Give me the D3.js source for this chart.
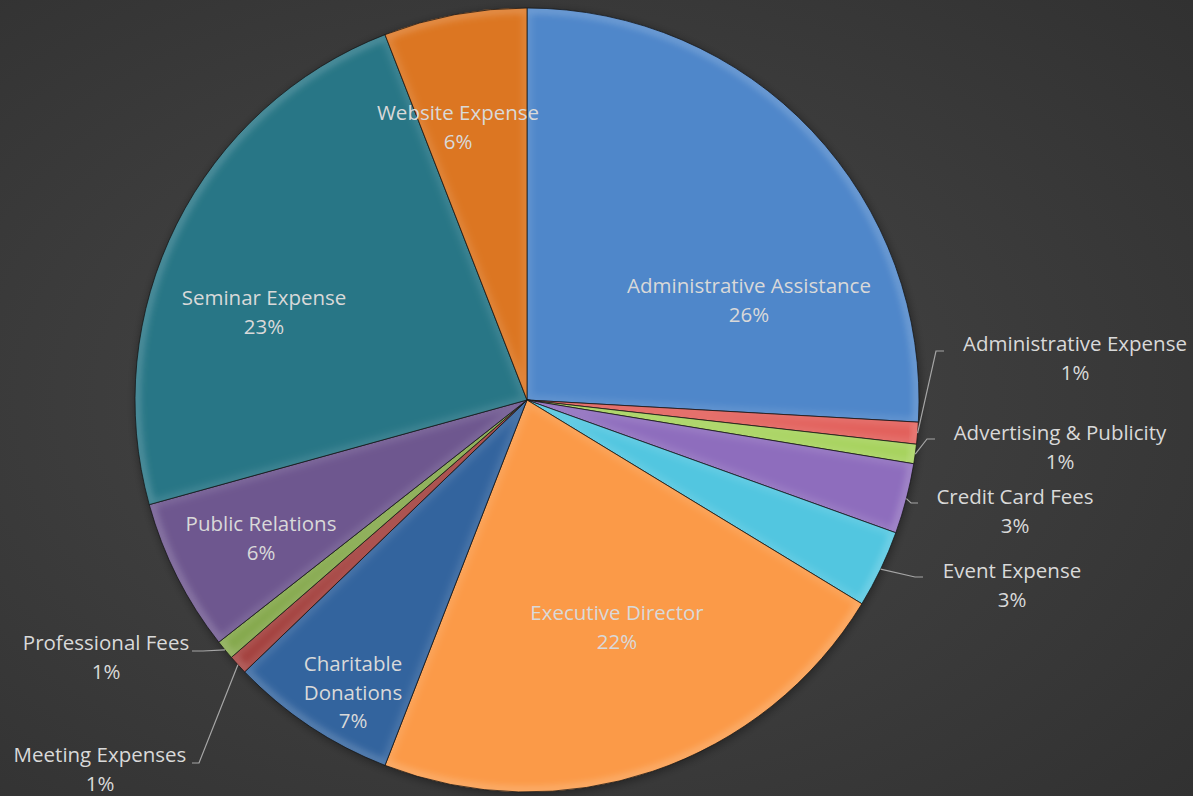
<!DOCTYPE html>
<html>
<head>
<meta charset="utf-8">
<script src="https://cdn.jsdelivr.net/npm/d3@7"></script>
<style>
  html, body { margin: 0; padding: 0; background: #3a3a3a; }
  svg { display: block; }
</style>
</head>
<body>
<svg id="chart" width="1193" height="796"></svg>
<script>
// ---- data ----
const categories = [
  "Administrative Assistance", "Administrative Expense", "Advertising & Publicity",
  "Credit Card Fees", "Event Expense", "Executive Director", "Charitable Donations",
  "Meeting Expenses", "Professional Fees", "Public Relations", "Seminar Expense", "Website Expense"
];
const values = [25.9, 0.9, 0.8, 2.9, 3.2, 22.2, 6.9, 0.8, 0.8, 6.3, 23.4, 5.9];
const colors = [
  "#4f87ca", "#e2605b", "#a6d25c", "#8e6dbd", "#52c6e0", "#fb9a48",
  "#33649e", "#a3403d", "#84a84b", "#6e578f", "#287686", "#dc7622"
];

// ---- layout (not data) ----
const W = 1193, H = 796;
const cx = 527, cy = 400, R = 392;
const fontSize = 20.5, lineH = 28.5;
const labelLayout = [
  { x: 749, y: 286, lines: ["Administrative Assistance"] },
  { x: 1075, y: 344, lines: ["Administrative Expense"] },
  { x: 1060, y: 433, lines: ["Advertising & Publicity"] },
  { x: 1015, y: 497, lines: ["Credit Card Fees"] },
  { x: 1012, y: 571, lines: ["Event Expense"] },
  { x: 617, y: 613, lines: ["Executive Director"] },
  { x: 353, y: 664, lines: ["Charitable", "Donations"] },
  { x: 100, y: 755, lines: ["Meeting Expenses"] },
  { x: 106, y: 643, lines: ["Professional Fees"] },
  { x: 261, y: 524, lines: ["Public Relations"] },
  { x: 264, y: 298, lines: ["Seminar Expense"] },
  { x: 458, y: 113, lines: ["Website Expense"] }
];
const leaders = [
  { i: 1, elbow: [936, 351], end: [944, 351] },
  { i: 2, elbow: [927, 439], end: [935, 439] },
  { i: 3, elbow: [911, 503], end: [918, 503] },
  { i: 4, elbow: [915, 577], end: [923, 577] },
  { i: 7, elbow: [199, 763], end: [192, 763] },
  { i: 8, elbow: [203, 651], end: [192, 651] }
];

const svg = d3.select("#chart");
const defs = svg.append("defs");

const bg = defs.append("radialGradient").attr("id", "bg")
  .attr("cx", cx / W).attr("cy", cy / H).attr("r", 0.75);
bg.append("stop").attr("offset", "0%").attr("stop-color", "#484848");
bg.append("stop").attr("offset", "100%").attr("stop-color", "#313131");
svg.append("rect").attr("width", W).attr("height", H).attr("fill", "url(#bg)");

const blur = defs.append("filter").attr("id", "blur")
  .attr("x", "-10%").attr("y", "-10%").attr("width", "120%").attr("height", "120%");
blur.append("feGaussianBlur").attr("stdDeviation", 3);
const sblur = defs.append("filter").attr("id", "sblur")
  .attr("x", "-10%").attr("y", "-10%").attr("width", "120%").attr("height", "120%");
sblur.append("feGaussianBlur").attr("stdDeviation", 4);

const pie = d3.pie().sort(null).value(d => d).startAngle(0).endAngle(2 * Math.PI);
const arcs = pie(values);
const arc = d3.arc().innerRadius(0).outerRadius(R);
const rimArc = d3.arc().innerRadius(R - 6).outerRadius(R);

const g = svg.append("g").attr("transform", `translate(${cx},${cy})`);

g.append("circle").attr("r", R + 1).attr("fill", "rgba(0,0,0,0.35)")
  .attr("filter", "url(#sblur)").attr("transform", "translate(1,2)");

arcs.forEach((a, i) => {
  defs.append("clipPath").attr("id", "clip" + i)
    .append("path").attr("d", arc(a));
});

const slices = g.selectAll("g.slice").data(arcs).join("g").attr("class", "slice");
slices.append("path").attr("d", arc).attr("fill", (d, i) => colors[i]);
slices.append("path").attr("d", arc)
  .attr("fill", "none")
  .attr("stroke", "rgba(255,255,255,0.10)")
  .attr("stroke-width", 10)
  .attr("filter", "url(#blur)")
  .attr("clip-path", (d, i) => `url(#clip${i})`);
slices.append("path").attr("d", rimArc)
  .attr("fill", "rgba(255,255,255,0.10)")
  .attr("filter", "url(#blur)")
  .attr("clip-path", (d, i) => `url(#clip${i})`);
slices.append("path").attr("d", arc)
  .attr("fill", "none")
  .attr("stroke", "rgba(20,20,20,0.75)")
  .attr("stroke-width", 1);

const lineGen = d3.line();
leaders.forEach(l => {
  const a = arcs[l.i];
  const mid = (a.startAngle + a.endAngle) / 2;
  const p0 = [R * Math.sin(mid), -R * Math.cos(mid)];
  const pts = [p0, [l.elbow[0] - cx, l.elbow[1] - cy], [l.end[0] - cx, l.end[1] - cy]];
  g.append("path").attr("d", lineGen(pts))
    .attr("fill", "none").attr("stroke", "#a6a6a6").attr("stroke-width", 1.2);
});

const fmt = v => Math.round(v) + "%";
labelLayout.forEach((L, i) => {
  const lines = L.lines.concat([fmt(values[i])]);
  const t = svg.append("text")
    .attr("text-anchor", "middle")
    .attr("font-family", "'Open Sans', sans-serif")
    .attr("font-size", fontSize)
    .attr("fill", "#d9d9d9");
  lines.forEach((s, k) => {
    t.append("tspan").attr("x", L.x).attr("y", L.y + k * lineH)
      .attr("dy", "0.35em").text(s);
  });
});
</script>
</body>
</html>
